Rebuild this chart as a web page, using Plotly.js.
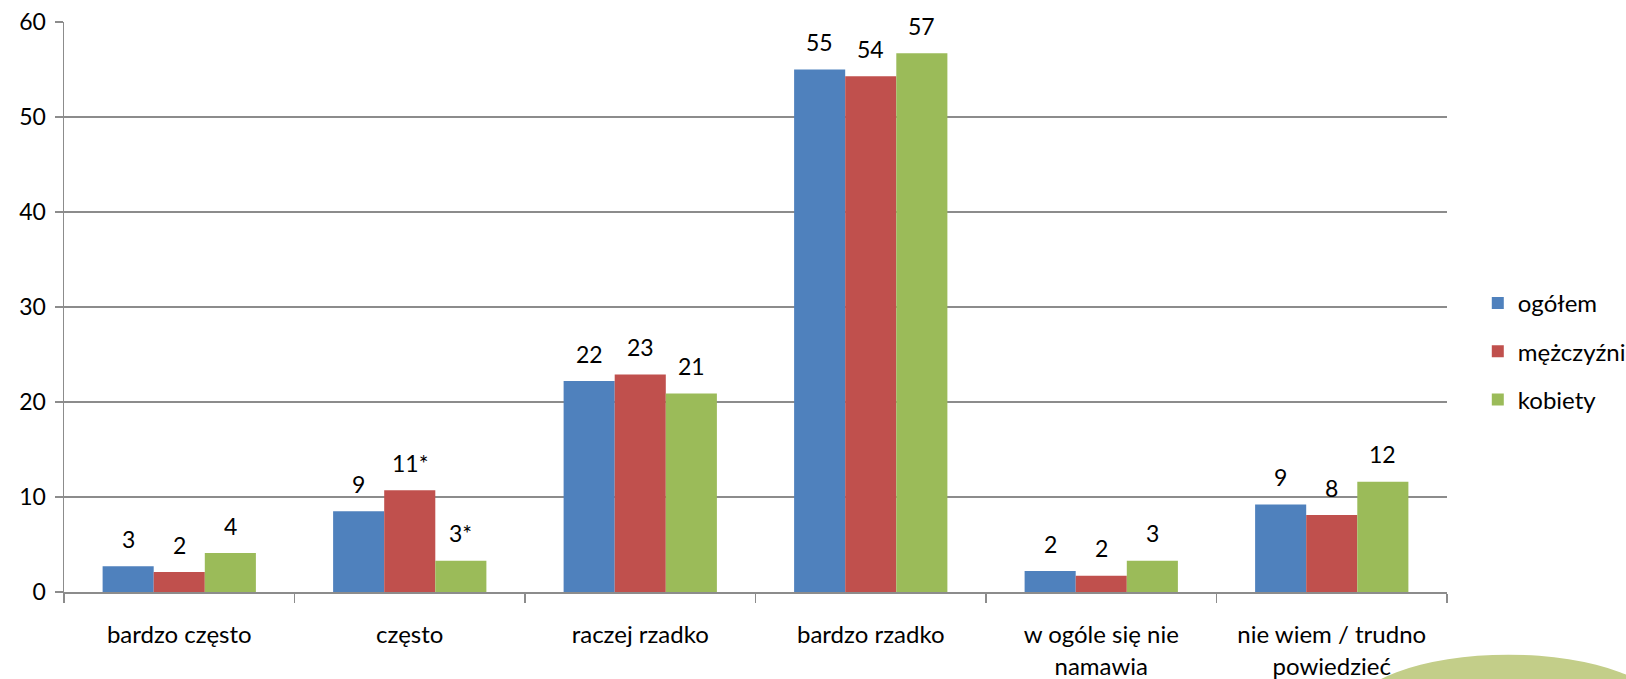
<!DOCTYPE html>
<html>
<head>
<meta charset="utf-8">
<script src="https://cdn.plot.ly/plotly-3.0.1.min.js"></script>
<style>
  html, body { margin: 0; padding: 0; background: #ffffff; }
  #chart { width: 1626px; height: 679px; }
</style>
</head>
<body>
<div id="chart"></div>
<script>
const categories = ['bardzo często', 'często', 'raczej rzadko', 'bardzo rzadko', 'w ogóle się nie<br>namawia', 'nie wiem / trudno<br>powiedzieć'];
const seriesNames = ['ogółem', 'mężczyźni', 'kobiety'];
const ogolem = [2.7, 8.5, 22.2, 55.0, 2.2, 9.2];
const mezczyzni = [2.1, 10.7, 22.9, 54.3, 1.7, 8.1];
const kobiety = [4.1, 3.3, 20.9, 56.7, 3.3, 11.6];
const ogolemLabels = ['3', '9', '22', '55', '2', '9'];
const mezczyzniLabels = ['2', '11*', '23', '54', '2', '8'];
const kobietyLabels = ['4', '3*', '21', '57', '3', '12'];
const yTicks = [0, 10, 20, 30, 40, 50, 60];

const colors = ['#4f81bd', '#c0504d', '#9bbb59'];
const FONT = 'Lato, "Open Sans", sans-serif';
const bargap = 0.335;

const series = [ogolem, mezczyzni, kobiety];
const labels = [ogolemLabels, mezczyzniLabels, kobietyLabels];

const traces = series.map((vals, i) => ({
  type: 'bar',
  name: seriesNames[i],
  x: categories,
  y: vals,
  marker: { color: colors[i], line: { width: 0 } },
  legendgroup: 'g' + i,
  hoverinfo: 'skip'
}));

const w = (1 - bargap) / 3;
const annotations = [];
series.forEach((vals, i) => {
  vals.forEach((v, c) => {
    annotations.push({
      xref: 'x', yref: 'y',
      x: c + (i - 1) * w,
      y: v,
      text: labels[i][c],
      showarrow: false,
      xanchor: 'center',
      yanchor: 'middle',
      yshift: 27.5,
      font: { family: FONT, size: 23, color: '#000000' }
    });
  });
});

const layout = {
  width: 1626,
  height: 679,
  paper_bgcolor: '#ffffff',
  plot_bgcolor: '#ffffff',
  margin: { l: 63.5, r: 179.3, t: 21.7, b: 86.7, pad: 0, autoexpand: false },
  barmode: 'group',
  bargap: bargap,
  bargroupgap: 0,
  showlegend: true,
  legend: {
    x: (1477.5 - 63.5) / 1383.2,
    xanchor: 'left',
    y: (592.3 - 351.5) / 570.6,
    yanchor: 'middle',
    traceorder: 'grouped',
    tracegroupgap: 14,
    font: { family: FONT, size: 24, color: '#000000' },
    bgcolor: 'rgba(0,0,0,0)',
    borderwidth: 0
  },
  xaxis: {
    type: 'category',
    range: [-0.5, 5.5],
    showline: true,
    linecolor: '#8c8c8c',
    linewidth: 1.5,
    ticks: 'outside',
    tickson: 'boundaries',
    ticklen: 9,
    tickwidth: 1.5,
    tickcolor: '#8c8c8c',
    showgrid: false,
    zeroline: false,
    ticklabelstandoff: 21,
    tickfont: { family: FONT, size: 24, color: '#000000' },
    fixedrange: true
  },
  yaxis: {
    range: [0, 60],
    tickvals: yTicks,
    ticktext: yTicks.map(String),
    showline: true,
    linecolor: '#8c8c8c',
    linewidth: 1.5,
    ticks: 'outside',
    ticklen: 8,
    tickwidth: 1.5,
    tickcolor: '#8c8c8c',
    showgrid: true,
    gridcolor: '#8c8c8c',
    gridwidth: 1.5,
    zeroline: false,
    ticklabelstandoff: 4,
    tickfont: { family: FONT, size: 23, color: '#000000' },
    fixedrange: true
  },
  annotations: annotations,
  shapes: [{
    type: 'circle',
    xref: 'paper', yref: 'paper',
    x0: (1350 - 63.5) / 1383.2,
    x1: (1666 - 63.5) / 1383.2,
    y0: (592.3 - 775) / 570.6,
    y1: (592.3 - 655) / 570.6,
    fillcolor: '#c3ce89',
    line: { width: 0 },
    layer: 'below'
  }]
};

Plotly.newPlot('chart', traces, layout, { staticPlot: true, displayModeBar: false });
</script>
</body>
</html>
